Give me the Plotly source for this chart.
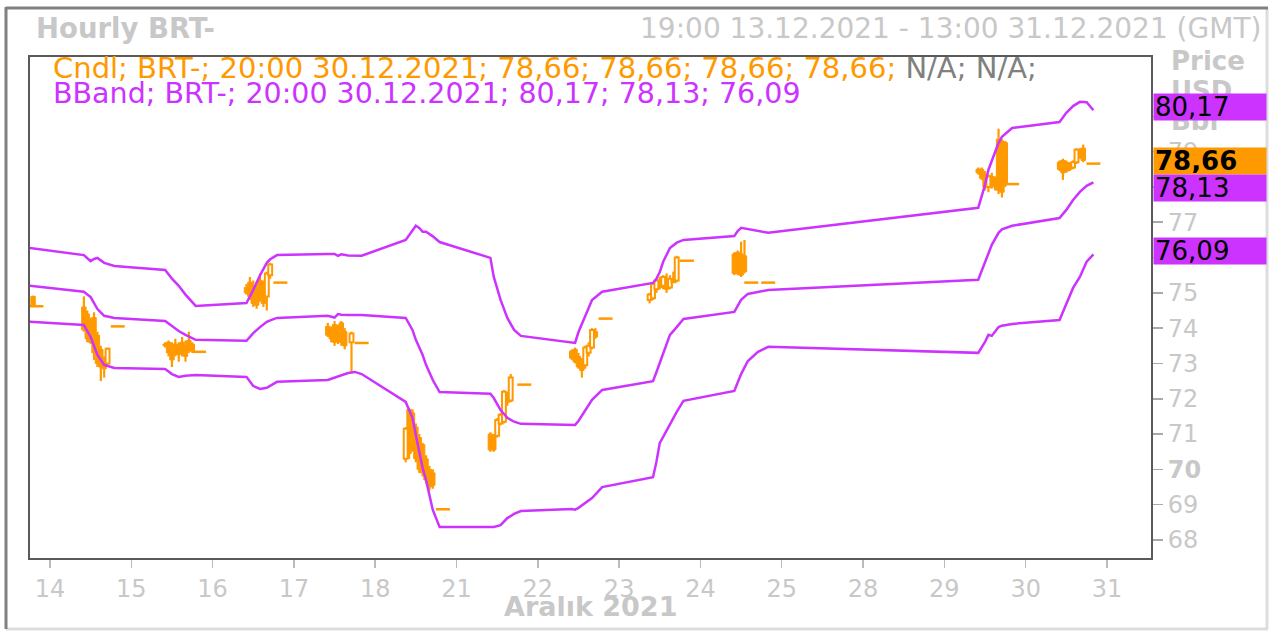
import plotly.graph_objects as go

# ---------------- data ----------------
sessions = [13, 14, 15, 16, 17, 18, 21, 22, 23, 24, 25, 28, 29, 30, 31]
tick_days = [14, 15, 16, 17, 18, 21, 22, 23, 24, 25, 28, 29, 30, 31]

cndl_day = [13, 13,
            14, 14, 14, 14, 14, 14, 14, 14, 14,
            15, 15, 15, 15, 15, 15, 15, 15, 15, 15,
            16, 16, 16, 16, 16, 16, 16, 16, 16,
            17, 17, 17, 17, 17, 17, 17, 17,
            18, 18, 18, 18, 18, 18, 18, 18, 18, 18,
            21, 21, 21, 21, 21, 21, 21, 21,
            22, 22, 22, 22, 22, 22, 22, 22, 22,
            23, 23, 23, 23, 23, 23, 23, 23, 23, 23,
            24, 24, 24, 24, 24, 24,
            29, 29, 29, 29, 29, 29, 29, 29, 29, 29,
            30, 30, 30, 30, 30, 30, 30, 30, 30]
cndl_hour = [19, 20,
             10, 11, 12, 13, 14, 15, 16, 17, 20,
             10, 11, 12, 13, 14, 15, 16, 17, 18, 20,
             10, 11, 12, 13, 14, 15, 16, 17, 20,
             10, 11, 12, 13, 14, 15, 17, 20,
             9, 10, 11, 12, 13, 14, 15, 16, 17, 20,
             10, 11, 12, 13, 14, 15, 16, 20,
             10, 11, 12, 13, 14, 15, 16, 17, 20,
             9, 10, 11, 12, 13, 14, 15, 16, 17, 20,
             10, 11, 12, 13, 15, 20,
             10, 11, 12, 13, 14, 15, 16, 17, 18, 20,
             10, 11, 12, 13, 14, 15, 16, 17, 20]
cndl_open = [74.90, 74.62,
             74.60, 74.40, 74.20, 74.30, 73.80, 73.40, 73.00, 73.00, 74.05,
             73.55, 73.60, 73.50, 73.55, 73.45, 73.60, 73.50, 73.65, 73.55, 73.33,
             75.15, 75.30, 75.20, 75.10, 75.35, 75.25, 74.90, 75.50, 75.29,
             74.05, 73.95, 74.10, 74.00, 74.15, 73.90, 73.60, 73.58,
             70.30, 71.70, 71.60, 71.20, 70.90, 70.70, 70.30, 70.00, 69.90, 68.87,
             71.00, 70.95, 70.95, 71.30, 71.35, 72.10, 71.95, 72.40,
             73.35, 73.40, 73.20, 73.10, 72.95, 73.30, 73.45, 73.90, 74.27,
             74.80, 74.85, 75.10, 75.35, 75.20, 75.40, 75.15, 75.30, 75.35, 75.91,
             76.10, 76.15, 76.10, 76.05, 75.29, 75.29,
             78.50, 78.50, 78.35, 78.00, 78.30, 78.20, 79.35, 79.30, 79.25, 78.08,
             78.70, 78.75, 78.70, 78.60, 78.55, 78.70, 79.00, 79.10, 78.66]
cndl_high = [74.92, 74.62,
             74.90, 74.50, 74.30, 74.45, 73.90, 73.50, 73.20, 73.45, 74.05,
             73.60, 73.65, 73.60, 73.70, 73.60, 73.75, 73.65, 73.90, 73.60, 73.33,
             75.25, 75.45, 75.35, 75.30, 75.55, 75.35, 75.60, 75.85, 75.29,
             74.15, 74.05, 74.20, 74.10, 74.20, 74.00, 73.90, 73.58,
             71.20, 71.75, 71.70, 71.30, 71.00, 70.75, 70.40, 70.10, 70.00, 68.87,
             71.05, 71.00, 71.45, 71.60, 72.25, 72.20, 72.70, 72.40,
             73.40, 73.45, 73.30, 73.15, 73.50, 73.60, 74.00, 74.00, 74.27,
             75.00, 75.30, 75.40, 75.45, 75.50, 75.55, 75.50, 75.60, 76.05, 75.91,
             76.15, 76.20, 76.45, 76.50, 75.29, 75.29,
             78.55, 78.55, 78.45, 78.35, 78.40, 78.30, 79.65, 79.35, 79.30, 78.08,
             78.75, 78.80, 78.75, 78.70, 78.75, 79.10, 79.10, 79.20, 78.66]
cndl_low = [74.62, 74.62,
            73.90, 73.60, 73.55, 73.10, 72.90, 72.50, 72.60, 72.95, 74.05,
            73.45, 73.20, 72.90, 73.20, 73.05, 73.20, 73.05, 73.30, 73.30, 73.33,
            74.95, 74.80, 74.60, 74.55, 74.75, 74.60, 74.50, 75.40, 75.29,
            73.75, 73.60, 73.50, 73.55, 73.50, 73.40, 72.73, 73.58,
            70.20, 70.30, 70.50, 70.20, 69.90, 69.80, 69.60, 69.40, 69.45, 68.87,
            70.50, 70.50, 70.90, 71.25, 71.30, 71.80, 71.90, 72.40,
            73.10, 73.00, 72.85, 72.60, 72.85, 73.20, 73.40, 73.70, 74.27,
            74.70, 74.80, 75.00, 75.10, 75.10, 75.00, 75.10, 75.30, 75.30, 75.91,
            75.50, 75.50, 75.45, 75.55, 75.29, 75.29,
            78.35, 78.20, 77.90, 77.85, 77.95, 77.90, 77.80, 77.70, 78.00, 78.08,
            78.45, 78.20, 78.40, 78.45, 78.50, 78.65, 78.80, 78.70, 78.66]
cndl_close = [74.65, 74.62,
              73.95, 73.70, 73.60, 73.30, 73.00, 72.90, 72.85, 73.42, 74.05,
              73.50, 73.30, 73.10, 73.30, 73.25, 73.30, 73.20, 73.40, 73.35, 73.33,
              75.00, 74.90, 74.70, 74.65, 74.85, 74.70, 75.55, 75.80, 75.29,
              73.80, 73.70, 73.60, 73.65, 73.60, 73.50, 73.85, 73.58,
              71.15, 70.45, 70.60, 70.30, 70.00, 69.90, 69.70, 69.50, 69.55, 68.87,
              70.55, 70.55, 71.40, 71.55, 72.20, 71.90, 72.60, 72.40,
              73.15, 73.05, 72.90, 72.80, 73.45, 73.50, 73.95, 73.75, 74.27,
              74.95, 75.25, 75.35, 75.15, 75.45, 75.10, 75.40, 75.35, 76.00, 75.91,
              75.55, 75.60, 75.50, 75.60, 75.29, 75.29,
              78.40, 78.25, 78.00, 78.30, 78.05, 78.00, 77.90, 77.85, 78.10, 78.08,
              78.50, 78.40, 78.45, 78.50, 78.70, 79.05, 78.85, 78.75, 78.66]

band_day = [13, 14, 14, 14, 14, 14, 14, 15, 15, 15, 15, 15, 16, 16, 16, 16, 16, 16,
            17, 17, 17, 17, 17, 17, 17, 18, 18, 18, 18, 18, 18, 18, 18,
            21, 21, 21, 21, 21, 21, 22, 22, 22, 22, 22, 22,
            23, 23, 23, 23, 23, 23, 23, 24, 24, 24, 24, 24, 24,
            29, 29, 29, 29, 29, 29, 29, 30, 30, 30, 30, 30, 30]
band_hour = [18, 10, 12, 13, 14, 16, 19, 10, 12, 14, 16, 19, 10, 12, 14, 16, 17, 19,
             10, 12, 13, 14, 16, 18, 20, 9, 11, 12, 13, 14, 15, 17, 19,
             10, 11, 13, 15, 17, 19, 10, 11, 12, 14, 16, 19,
             10, 11, 12, 13, 15, 17, 19, 10, 11, 12, 14, 17, 20,
             10, 12, 13, 14, 16, 17, 20, 10, 12, 14, 16, 18, 20]
band_upper = [76.27, 76.07, 75.90, 75.96, 75.99, 75.85, 75.76, 75.65, 75.40, 75.20, 74.95, 74.63,
              74.71, 75.08, 75.50, 75.85, 75.95, 76.07,
              76.10, 76.10, 76.05, 76.09, 76.06, 76.05, 76.05,
              76.50, 76.78, 76.90, 76.84, 76.73, 76.73, 76.60, 76.44,
              75.99, 75.45, 74.80, 74.29, 73.95, 73.78,
              73.58, 73.58, 73.89, 74.37, 74.80, 75.03,
              75.28, 75.40, 75.59, 75.88, 76.27, 76.42, 76.50,
              76.61, 76.75, 76.84, 76.80, 76.74, 76.70,
              77.41, 78.06, 78.48, 78.75, 79.25, 79.42, 79.67,
              79.84, 80.10, 80.29, 80.41, 80.40, 80.17]
band_mid = [75.20, 75.03, 74.88, 74.71, 74.54, 74.35, 74.29, 74.20, 74.06, 73.92, 73.81, 73.67,
            73.64, 73.86, 74.03, 74.18, 74.22, 74.29,
            74.35, 74.30, 74.40, 74.38, 74.37, 74.37, 74.37,
            74.29, 73.95, 73.67, 73.45, 73.24, 72.96, 72.53, 72.19,
            72.14, 72.02, 71.68, 71.46, 71.35, 71.29,
            71.26, 71.26, 71.37, 71.68, 71.97, 72.25,
            72.50, 72.75, 73.01, 73.33, 73.81, 74.03, 74.26,
            74.46, 74.63, 74.80, 74.97, 75.03, 75.08,
            75.37, 75.88, 76.12, 76.36, 76.70, 76.80, 76.90,
            77.12, 77.35, 77.63, 77.86, 78.03, 78.13]
band_lower = [74.18, 74.09, 73.75, 73.52, 73.24, 72.96, 72.87, 72.84, 72.70, 72.62, 72.65, 72.67,
              72.62, 72.36, 72.28, 72.31, 72.36, 72.48,
              72.53, 72.59, 72.63, 72.67, 72.73, 72.76, 72.70,
              71.91, 71.46, 70.97, 70.49, 70.04, 69.70, 68.85, 68.37,
              68.37, 68.37, 68.42, 68.62, 68.74, 68.82,
              68.88, 68.86, 68.91, 69.05, 69.19, 69.50,
              69.78, 70.21, 70.75, 70.92, 71.29, 71.63, 71.94,
              72.22, 72.46, 72.70, 73.07, 73.33, 73.47,
              73.30, 73.61, 73.81, 73.78, 74.03, 74.07, 74.12,
              74.23, 74.66, 75.14, 75.45, 75.88, 76.09]

y_ticks = [68, 69, 70, 71, 72, 73, 74, 75, 76, 77, 78, 79, 80]
y_ticks_hidden = [76, 78, 80]   # covered by the value boxes
last_time = "20:00 30.12.2021"
range_text = "19:00 13.12.2021 - 13:00 31.12.2021 (GMT)"

# ---------------- style ----------------
ORANGE = "#FF9900"
PURPLE = "#CC33FF"
LIGHT = "#C8C8C8"
FONT = "Verdana, DejaVu Sans, sans-serif"
W, H = 1274, 632
PX_L, PX_R, PY_T, PY_B = 30, 1151, 57, 558


def fx(px):
    return (px - PX_L) / (PX_R - PX_L)


def fy(py):
    return (PY_B - py) / (PY_B - PY_T)


def pos(day, hour):
    return 24 * (sessions.index(day) - 1) + hour


def fmt(v):
    return f"{v:.2f}".replace(".", ",")


cx = [pos(d, h) for d, h in zip(cndl_day, cndl_hour)]
n = len(cx)
body_idx = [i for i in range(n) if cndl_high[i] > cndl_low[i]]
flat_idx = [i for i in range(n) if cndl_high[i] == cndl_low[i]]
up_idx = [i for i in body_idx if cndl_close[i] >= cndl_open[i]]
dn_idx = [i for i in body_idx if cndl_close[i] < cndl_open[i]]
bx = [pos(d, h) for d, h in zip(band_day, band_hour)]

fig = go.Figure()
for vals in (band_upper, band_mid, band_lower):
    fig.add_trace(go.Scatter(x=bx, y=vals, mode="lines",
                             line=dict(color=PURPLE, width=2.5),
                             hoverinfo="skip", showlegend=False))

# wicks (high-low) as thin bars
fig.add_trace(go.Bar(
    x=[cx[i] for i in body_idx],
    y=[cndl_high[i] - cndl_low[i] for i in body_idx],
    base=[cndl_low[i] for i in body_idx],
    width=0.65, marker=dict(color=ORANGE, line=dict(width=0)),
    hoverinfo="skip", showlegend=False))

# falling candles: filled bodies
fig.add_trace(go.Bar(
    x=[cx[i] for i in dn_idx],
    y=[max(cndl_open[i] - cndl_close[i], 0.02) for i in dn_idx],
    base=[cndl_close[i] for i in dn_idx],
    width=1.3, marker=dict(color=ORANGE, line=dict(color=ORANGE, width=1)),
    hoverinfo="skip", showlegend=False))

# rising candles: hollow bodies
fig.add_trace(go.Bar(
    x=[cx[i] for i in up_idx],
    y=[max(cndl_close[i] - cndl_open[i], 0.02) for i in up_idx],
    base=[cndl_open[i] for i in up_idx],
    width=1.15, marker=dict(color="white", line=dict(color=ORANGE, width=2)),
    hoverinfo="skip", showlegend=False))

# flat (O=H=L=C) candles: dashes
fig.add_trace(go.Scatter(
    x=[cx[i] for i in flat_idx], y=[cndl_close[i] for i in flat_idx],
    mode="markers",
    marker=dict(symbol="line-ew", size=10, line=dict(color=ORANGE, width=2.5)),
    hoverinfo="skip", showlegend=False))

tick_text = ["" if t in y_ticks_hidden else (f"<b>{t}</b>" if t == 70 else str(t)) for t in y_ticks]

fig.update_layout(
    width=W, height=H,
    margin=dict(l=PX_L, r=W - PX_R, t=PY_T, b=H - PY_B, pad=0),
    paper_bgcolor="white", plot_bgcolor="white",
    font=dict(family=FONT, color=LIGHT),
    barmode="overlay",
    xaxis=dict(range=[-5.9, 325], tickvals=[24 * i for i in range(len(tick_days))],
               ticktext=[str(d) for d in tick_days], ticks="outside", ticklen=8,
               tickcolor="#BBBBBB", tickwidth=1.5, tickfont=dict(size=24, color=LIGHT),
               showgrid=False, zeroline=False, showline=True, linecolor="#5A5A5A",
               linewidth=2, mirror=True, fixedrange=True),
    yaxis=dict(range=[67.49, 81.68], side="right", tickvals=y_ticks, ticktext=tick_text,
               ticks="outside", ticklen=10, tickcolor="#AAAAAA", tickwidth=1.5,
               tickfont=dict(size=24, color=LIGHT), showgrid=False, zeroline=False,
               showline=True, linecolor="#5A5A5A", linewidth=2, mirror=True, fixedrange=True),
)

ann = []
ann.append(dict(text="<b>Hourly BRT-</b>", x=fx(34), y=fy(28), xanchor="left", yanchor="middle",
                font=dict(size=27.5, color=LIGHT)))
ann.append(dict(text=range_text, x=fx(1263), y=fy(28), xanchor="right", yanchor="middle",
                font=dict(size=28, color=LIGHT)))
last_c = flat_idx[-1]
cndl_vals = "; ".join(fmt(v) for v in (cndl_open[last_c], cndl_high[last_c],
                                       cndl_low[last_c], cndl_close[last_c]))
ann.append(dict(text=f'<span style="color:{ORANGE}">Cndl; BRT-; {last_time}; {cndl_vals};</span>'
                     f' <span style="color:#808080">N/A; N/A;</span>',
                x=fx(51), y=fy(68), xanchor="left", yanchor="middle", font=dict(size=29)))
ann.append(dict(text=f"BBand; BRT-; {last_time}; {fmt(band_upper[-1])}; {fmt(band_mid[-1])}; {fmt(band_lower[-1])}",
                x=fx(51), y=fy(94), xanchor="left", yanchor="middle", font=dict(size=28.5, color=PURPLE)))
for txt, py in (("Price", 61), ("USD", 91), ("Bbl", 121)):
    ann.append(dict(text=f"<b>{txt}</b>", x=fx(1169), y=fy(py), xanchor="left", yanchor="middle",
                    font=dict(size=26, color=LIGHT)))
ann.append(dict(text="<b>Aralık 2021</b>", x=fx(590), y=fy(606), xanchor="center", yanchor="middle",
                font=dict(size=27, color=LIGHT)))

boxes = [(band_upper[-1], PURPLE, False, 3), (cndl_close[last_c], ORANGE, True, 3),
         (band_mid[-1], PURPLE, False, -6), (band_lower[-1], PURPLE, False, 3)]
for val, col, bold, shift in boxes:
    t = fmt(val)
    ann.append(dict(text=f"<b>{t}</b>" if bold else t, xref="paper", yref="y",
                    x=fx(1153), y=val, xanchor="left", yanchor="middle", yshift=shift,
                    bgcolor=col, width=110, height=24, align="left", borderpad=1,
                    font=dict(size=26, color="black")))

for a in ann:
    a.setdefault("xref", "paper")
    a.setdefault("yref", "paper")
    a["showarrow"] = False
fig.update_layout(annotations=ann)

shapes = [
    dict(type="line", xref="paper", yref="paper", x0=fx(1267), x1=fx(1267), y0=fy(8), y1=fy(629),
         line=dict(color="#DDDDDD", width=3)),
    dict(type="line", xref="paper", yref="paper", x0=fx(6), x1=fx(1268), y0=fy(629), y1=fy(629),
         line=dict(color="#DDDDDD", width=3)),
    dict(type="line", xref="paper", yref="paper", x0=fx(6), x1=fx(1268), y0=fy(8), y1=fy(8),
         line=dict(color="#808080", width=3)),
    dict(type="line", xref="paper", yref="paper", x0=fx(6), x1=fx(6), y0=fy(7), y1=fy(629),
         line=dict(color="#808080", width=3)),
]
fig.update_layout(shapes=shapes)

fig.write_html("out.html", config={"displayModeBar": False, "staticPlot": True},
               post_script="document.body.style.margin='0';document.body.style.overflow='hidden';")
